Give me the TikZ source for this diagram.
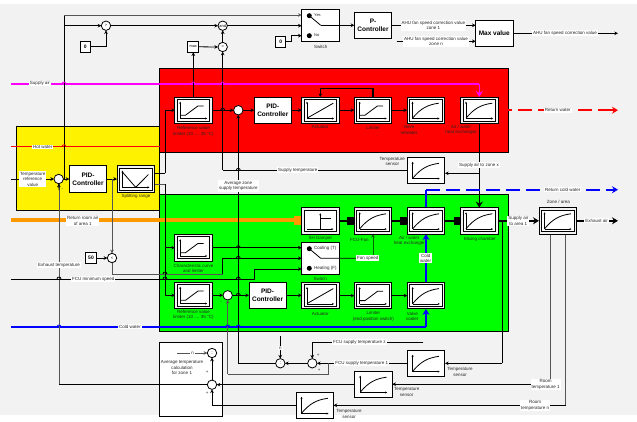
\documentclass[tikz,border=0pt]{standalone}
\usepackage{fontspec}
\setmainfont{Liberation Sans}
\usetikzlibrary{arrows.meta,calc}
\definecolor{bgray}{HTML}{F2F2F2}
\definecolor{lgray}{HTML}{555555}
\definecolor{myorange}{HTML}{FF9900}
\definecolor{mymag}{HTML}{FF00FF}
\definecolor{dgreen}{HTML}{006600}
\newcommand\hop[3][black]{\draw[#1,line width=.8pt] (#2-2,#3) .. controls (#2-2,#3-2.6) and (#2+2,#3-2.6) .. (#2+2,#3);}
\newcommand\icAxes{\draw[axs] (-13.3,8.3)--(13.7,8.3); \draw[axs] (-13.3,8.3)--(-13.3,-8.5);}
\newcommand\icLim{\icAxes\draw[cv] (-13.3,5)--(-8,5)--(4.5,-4.3)--(10,-4.3);}
\newcommand\icLin{\icAxes\draw[cv] (-13.3,8)--(13,-7);}
\newcommand\icPt{\icAxes\draw[cv] (-13.3,8) .. controls (-5,-2) and (2,-5.5) .. (13,-7);}
\newcommand\icSplit{\icAxes\draw[cv] (-13.3,-7)--(0,8.3)--(12.7,-4.5);}
\newcommand\icDamp{\draw[axs] (-13.3,8.3)--(13,8.3); \draw[axs] (0,8.3)--(0,-7.5); \draw[cv] (0,-2.3)--(10.7,-2.3);}
\newcommand\simblk[4]{\node[dbl] (#1) at (#2,#3) {};
  \begin{scope}[shift={(#2,#3)}]\draw[black,line width=.7pt,fill=white] (-16.3,-10.9) rectangle (16.3,10.9);#4\end{scope}}
\newcommand\sensor[4]{\node[snr] (#1) at (#2,#3) {};
  \begin{scope}[shift={(#2,#3)}]#4\end{scope}}
\tikzset{
  >={Stealth[length=3.6pt,width=3.6pt]},
  ln/.style={black,line width=.8pt},
  gln/.style={lgray,line width=1pt},
  arr/.style={ln,->},
  garr/.style={gln,->},
  thk/.style={black,line width=1.5pt},
  bigarr/.style={-{Stealth[length=6pt,width=7pt]}},
  axs/.style={black,line width=.5pt,-{Stealth[length=2pt,width=2pt]}},
  cv/.style={black,line width=.8pt},
  dbl/.style={draw=black,line width=.8pt,fill=bgray,minimum width=37.3pt,minimum height=26.4pt,inner sep=0pt,outer sep=0pt},
  snr/.style={draw=black,line width=.8pt,fill=white,minimum width=37.6pt,minimum height=26pt,inner sep=0pt,outer sep=0pt},
  ctl/.style={draw=black,line width=.8pt,fill=white,minimum width=37.3pt,minimum height=26.4pt,inner sep=0pt,outer sep=0pt,align=center,font=\fontsize{6.5}{8}\selectfont\bfseries},
  swb/.style={draw=black,line width=.8pt,fill=white,minimum width=37.3pt,inner sep=0pt,outer sep=0pt},
  sbox/.style={draw=black,line width=.8pt,fill=white,inner sep=0pt,outer sep=0pt,font=\fontsize{5}{6}\selectfont\bfseries},
  sumc/.style={circle,draw=black,line width=.8pt,fill=white,minimum size=9.4pt,inner sep=0pt,outer sep=0pt,font=\fontsize{4}{4}\selectfont},
  dotn/.style={circle,fill=black,minimum size=5pt,inner sep=0pt,outer sep=0pt},
  lab/.style={font=\fontsize{4.5}{5.5}\selectfont,align=center,inner sep=0pt,text=black!85},
  labw/.style={lab,fill=white,inner xsep=1pt,inner ysep=.8pt},
  ent/.style={fill=black,inner sep=0pt,outer sep=0pt,minimum width=7pt,minimum height=8pt}
}
\begin{document}
\begin{tikzpicture}[x=1pt,y=-1pt]
\useasboundingbox (0,0) rectangle (637,421);
\fill[white] (0,0) rectangle (637,421);
\fill[bgray] (0,4) rectangle (637,415);
% coloured regions
\draw[black,line width=.8pt,fill=yellow] (16.7,126) rectangle (159.5,210);
\draw[black,line width=.8pt,fill=red] (159.5,68) rectangle (508,152.5);
\draw[black,line width=.8pt,fill=green] (159.5,194.5) rectangle (508,331.5);
\draw[black,line width=.8pt,fill=white] (159.5,342.5) rectangle (222.5,416);

% nodes: controllers, junction circles, small boxes
\node[ctl] (pid0) at (88,179) {PID-\\Controller};
\node[ctl] (pid1) at (272.8,110.2) {PID-\\Controller};
\node[ctl] (pid2) at (267.6,295.3) {PID-\\Controller};
\node[ctl] (pc) at (373,25.5) {P-\\Controller};
\node[ctl] (maxv) at (494.3,33.3) {Max value};
\node[swb,minimum height=32.4pt] (sw1) at (320.3,25.5) {};
\node[swb,minimum height=31.8pt] (sw2) at (320.3,258.3) {};
\node[sbox,minimum width=10.7pt,minimum height=11pt] (z1) at (85.3,46.8) {0};
\node[sbox,minimum width=10pt,minimum height=10.3pt] (z2) at (280.7,41.8) {0};
\node[sbox,minimum width=11.4pt,minimum height=11.4pt] (b50) at (91,258) {50};
\node[sbox,minimum width=11pt,minimum height=11pt,font=\fontsize{3.8}{4}\selectfont] (bmax) at (193.3,46.8) {max};
\node[sumc] (sumy) at (58.7,179) {};
\node[sumc] (sumr) at (238.3,110.2) {};
\node[sumc] (sumg) at (227.7,295.3) {};
\node[sumc] (clt) at (112,258) {<};
\node[sumc] (cgt) at (106,25.7) {>};
\node[sumc] (cand) at (222.7,25.7) {and};
\node[sumc] (ceq) at (222.7,47) {=};
\node[sumc,font=\fontsize{5}{5}\selectfont] (avgd) at (212,353) {:};
\node[sumc] (avgs) at (212,384.7) {};
\node[sumc,font=\fontsize{5}{5}\selectfont] (divc) at (280.3,363.3) {:};
\node[sumc] (sumb) at (312.3,363.3) {};
\coordinate (vtop) at (64,15);
\coordinate (vand) at (64,25.7);
\coordinate (vsum) at (64,179);
\coordinate (fcua) at (254.3,279);
\coordinate (fcub) at (254.3,269);
\coordinate (gr1) at (112,274);
\coordinate (gr2) at (222.5,274);
\coordinate (gr3) at (222.5,258.3);
\coordinate (bus) at (165,173);
\coordinate (bus2) at (165,184);
\coordinate (fb) at (222.7,110.2);
\coordinate (fb2) at (222.7,170.3);
\coordinate (avg) at (238.3,363.3);
\coordinate (tap) at (502.3,220.8);
\coordinate (tap2) at (502.3,363.3);
\coordinate (rt1) at (550,384.2);
\coordinate (rtn) at (565.7,405.3);
\coordinate (nfree) at (280.3,336);
\coordinate (zfree) at (423.3,342.3);
\coordinate (avgn) at (177.3,353);
\coordinate (mid) at (328.3,363.3);
\coordinate (mid2) at (328.3,374);
\coordinate (mid3) at (227.7,374);
\coordinate (ahun) at (396.7,41.3);
\coordinate (ahuout) at (618,33.3);
\coordinate (supa) at (11,84);
\coordinate (supb) at (479.3,84);
\coordinate (hota) at (11,146.7);
\coordinate (hotb) at (159.5,146.7);
\coordinate (rooma) at (11,219.7);
\coordinate (roomb) at (301.7,219.7);
\coordinate (fcu0) at (11,279);
\coordinate (cold0) at (11,327);
\coordinate (cold1) at (426,327);
\coordinate (refin) at (11,179);
\coordinate (rcw0) at (426,189.7);
\coordinate (rcw1) at (618,189.7);
\coordinate (rw1) at (618,110.2);
\coordinate (ex1) at (618,220.8);
\coordinate (tsin) at (479.3,173.3);
\coordinate (fanr) at (373,258.3);
\coordinate (zm) at (291,41.8);
\coordinate (zm2) at (291,35.7);
\coordinate (loop1) at (373,88.5);
\coordinate (loop2) at (320.3,88.5);
\coordinate (exb) at (59,384.7);
\coordinate (c1) at (212,405.3);
\coordinate (ey) at (58.7,179);

% media lines
\draw[mymag,line width=1.6pt] (supa) -- (supb);
\draw[mymag,line width=1.6pt,bigarr] (supb) -- (479.3,97);
\draw[red,line width=1.2pt] (hota) -- (hotb);
\draw[myorange,line width=4pt] (rooma) -- (roomb);
\fill[myorange] (294,216) rectangle (301.7,224.5);

% control lines, top part
\draw[ln] (vsum) -- (vtop);
\draw[gln,->] (vtop) -- (vtop -| sw1.west);
\draw[arr] (vand) -- (cgt.west);
\draw[arr] (cgt.east) -- (cand.west);
\draw[arr] (cand.east) -- (cand -| sw1.west);
\draw[arr] (z1.east) -| (cgt.south);
\draw[arr] (bmax.east) -- (ceq.west);
\draw[arr] (ceq.north) -- (cand.south);
\draw[arr] (fb) -- (ceq.south);
\draw[arr] (bmax.south |- 0,97) -- (bmax.south);
\draw[ln] (z2.east) -- (zm) -- (zm2);
\draw[arr] (zm2) -- (zm2 -| sw1.west);
\draw[arr] (pc.east |- 0,25.3) -- (maxv.west |- 0,25.3);
\draw[arr] (ahun) -- (ahun -| maxv.west);
\draw[arr] (maxv.east) -- (ahuout);

% yellow
\draw[arr] (refin) -- (sumy.west);
\draw[arr] (sumy.east) -- (pid0.west);
\draw[arr] (pid0.east) -- (117,179);
\draw[gln,->] (112,179) -- (clt.north);
\draw[arr] (b50.east) -- (clt.west);
\draw[gln] (clt.south) -- (gr1) -- (gr2);
\draw[ln] (gr2) -- (gr3);
\draw[arr] (gr3) -- (gr3 -| sw2.west);
\draw[ln] (154.3,173) -- (bus);
\draw[arr] (bus) -- (165,110.2) -- (175,110.2);
\draw[gln] (154.3,184) -- (bus2);
\draw[ln] (bus2) -- (165,295.3);
\draw[arr] (165,247.7) -- (175,247.7);
\draw[arr] (165,295.3) -- (175,295.3);

% red chain
\draw[arr] (212,110.2) -- (sumr.west);
\draw[arr] (sumr.east) -- (pid1.west);
\draw[arr] (pid1.east) -- (301.7,110.2);
\draw[arr] (339,110.2) -- (354.3,110.2);
\draw[arr] (391.7,110.2) -- (407,110.2);
\draw[line width=1.2pt] (373,97) -- (loop1) -- (loop2);
\draw[line width=1.2pt,->] (loop2) -- (320.3,97);
\draw[ln] (fb) -- (fb2);
\draw[line width=1.3pt,black,bigarr] (479.3,123.4) -- (479.3,207.6);
\draw[arr] (tsin) -- (445,173.3);
\draw[red,line width=2.4pt,dash pattern=on 14pt off 6pt] (498,110.2) -- (608,110.2);
\draw[red,line width=2.4pt,bigarr] (608,110.2) -- (rw1);

% cold/return water
\draw[blue,line width=2.4pt,dash pattern=on 14pt off 6pt] (rcw0) -- (608,189.7);
\draw[blue,line width=2.4pt,bigarr] (608,189.7) -- (rcw1);
\draw[blue,line width=1.8pt] (rcw0) -- (426,207.7);
\draw[blue,line width=1.6pt] (cold0) -- (cold1);
\draw[blue,line width=1.2pt,bigarr] (cold1) -- (426,308.9);
\draw[blue,line width=1.2pt,bigarr] (426,282.3) -- (426,234);

% green part
\draw[gln] (59,183.7) -- (exb);
\draw[ln] (exb) -- (avgs.west);
\draw[ln,<-] (sumy.south) -- (59,190);
\draw[arr] (212,247.7) -- (sw2.west |- 0,247.7);
\draw[ln] (fcu0) -- (fcua) -- (fcub);
\draw[arr] (fcub) -- (fcub -| sw2.west);
\draw[arr] (212,295.3) -- (sumg.west);
\draw[arr] (sumg.east) -- (pid2.west);
\draw[arr] (pid2.east) -- (301.7,295.3);
\draw[arr] (339,295.6) -- (354.3,295.6);
\draw[arr] (391.7,295.6) -- (407.3,295.6);
\draw[dgreen,line width=.9pt,->] (fanr) -- (373,234);
\draw[thk] (339,220.8) -- (354.3,220.8);
\draw[thk] (391.7,220.8) -- (407.3,220.8);
\draw[thk] (445,220.8) -- (460.7,220.8);
\node[ent] (e1) at (350.8,221) {};
\node[ent] (e2) at (403.8,221) {};
\node[ent] (e3) at (457.2,221) {};
\draw[thk,bigarr] (498,220.8) -- (539,220.8);
\draw[thk,bigarr] (576.6,220.8) -- (ex1);
\draw[ln] (tap) -- (tap2);
\draw[arr] (tap2) -- (445,363.3);
\draw[gln] (550,234) -- (rt1);
\draw[ln] (rt1) -- (392.3,384.2);
\draw[ln,->] (400,384.2) -- (392.3,384.2);
\draw[gln] (rtn -| rtn) -- (565.7,234);
\draw[ln] (rtn) -- (333.6,405.3);
\draw[ln,->] (340,405.3) -- (333.6,405.3);
\draw[ln] (296,405.3) -- (c1);
\draw[arr] (c1) -- (avgs.south);
\draw[ln,->] (296,384.7) -- (avgs.east);
\draw[ln] (354.7,384.7) -- (296,384.7);
\draw[arr] (avgs.north) -- (avgd.south);
\draw[gln,->] (avgn) -- (avgd.west);
\draw[ln,->] (nfree) -- (divc.north);
\draw[arr] (zfree) -| (sumb.north);
\draw[arr] (407.3,363.3) -- (sumb.east);
\draw[arr] (sumb.west) -- (divc.east);
\draw[ln] (divc.west) -- (avg);
\draw[arr] (avg) -- (sumr.south);
\draw[ln] (407.3,170.3) -- (fb2);
\draw[gln] (mid) -- (mid2) -- (mid3);
\draw[gln,->] (mid3) -- (sumg.south);

% line crossings
\hop[mymag]{64}{84}\hop[mymag]{193.3}{84}\hop[mymag]{222.7}{84}
\hop[red]{64}{146.7}
\hop{59}{279}\hop{165}{279}\hop{238.3}{279}
\hop{165}{274}\hop{238.3}{258.3}\hop{238.3}{247.7}\hop{238.3}{295.3}\hop{238.3}{170.3}\hop{222.7}{110.2}
\hop[blue]{59}{327}\hop[blue]{227.7}{327}\hop[blue]{238.3}{327}

% simulation blocks
\simblk{rlim}{193.5}{110.2}{\icLim}
\simblk{act}{320.3}{110.2}{\icLin}
\simblk{lim}{373}{110.2}{\icLim}
\simblk{reh}{425.8}{110.2}{\icPt}
\simblk{aw}{479.3}{110.2}{\icPt}
\simblk{split}{135.7}{179}{\icSplit}
\simblk{damp}{320.3}{220.8}{\icDamp}
\simblk{fan}{373}{220.8}{\icPt}
\simblk{aw2}{426}{220.8}{\icPt}
\simblk{mix}{479.3}{220.8}{\icPt}
\simblk{zone}{557.8}{220.8}{\icPt}
\simblk{charc}{193.5}{247.7}{\icLim}
\simblk{rlim2}{193.5}{295.3}{\icLim}
\simblk{act2}{320.3}{295.6}{\icLin}
\simblk{lim2}{373}{295.6}{\icLim}
\simblk{valve}{426}{295.6}{\icPt}
\sensor{ts1}{426}{170.3}{\icPt}
\sensor{ts2}{426}{363.3}{\icPt}
\sensor{ts3}{373.5}{384.2}{\icPt}
\sensor{ts4}{314.8}{405.3}{\icPt}

% switches
\node[dotn] (d1) at (309.3,15.7) {};
\node[dotn] (d2) at (309.3,35.7) {};
\coordinate (arm1) at (320.7,25.3);
\draw[ln] (d1) -- (arm1);
\draw[arr] (arm1) -- (pc.west |- arm1);
\node[dotn] (d3) at (309.3,248.7) {};
\node[dotn] (d4) at (309.3,268.3) {};
\draw[ln] (d3) -- (320.7,258.3) -- (fanr);
\node[lab,anchor=west,font=\fontsize{4}{5}\selectfont] (yes) at (314,15.5) {Yes};
\node[lab,anchor=west,font=\fontsize{4}{5}\selectfont] (no) at (314,35.5) {No};
\node[lab,anchor=west] (coolT) at (314,248.3) {Cooling (T)};
\node[lab,anchor=west] (heatF) at (314,268.3) {Heating (F)};

% labels on grey
\node[labw] (t1) at (40,83.5) {Supply air};
\node[labw] (t2) at (42.7,147) {Hot water};
\node[labw] (t3) at (32.7,179) {Temperature\\reference\\value};
\node[labw] (t4) at (82.7,220.7) {Return room air\\of area 1};
\node[labw] (t5) at (59,265.3) {Exhaust temperature};
\node[labw] (t6) at (93.3,279) {FCU minimum speed};
\node[labw] (t7) at (130,326.7) {Cold water};
\node[labw] (t8) at (433.3,25.3) {AHU fan speed correction value\\zone 1};
\node[labw] (t9) at (436,41.3) {AHU fan speed correction value\\zone n};
\node[labw] (t10) at (565,33.3) {AHU fan speed correction value};
\node[labw] (t11) at (557.7,110.2) {Return water};
\node[labw] (t12) at (562.7,189.7) {Return cold water};
\node[labw] (t13) at (479,165.3) {Supply air to zone x};
\node[labw] (t14) at (297.7,170.3) {Supply temperature};
\node[labw] (t15) at (238.3,186) {Average zone\\supply temperature};
\node[labw] (t16) at (518.3,221) {Supply air\\to area 1};
\node[labw] (t17) at (596.7,220.8) {Exhaust air};
\node[labw] (t18) at (425.7,258.2) {Cold\\water};
\node[labw] (t19) at (367.7,258.3) {Fan speed};
\node[labw] (t20) at (359.3,342.3) {FCU supply temperature z};
\node[labw] (t21) at (361.7,363.3) {FCU supply temperature 1};
\node[labw] (t22) at (545.7,384.2) {Room\\temperature 1};
\node[labw] (t23) at (535,405.3) {Room\\temperature n};
\node[labw] (t24) at (192.7,353) {n};
\node[labw] (t25) at (280.3,348) {n};
% plain labels
\node[lab] (p1) at (136,196.7) {Splitting range};
\node[lab] (p2) at (193.5,131.5) {Reference value\\limiter (10 .... 35 °C)};
\node[lab] (p3) at (320.3,127.3) {Actuator};
\node[lab] (p4) at (373,128.3) {Limiter};
\node[lab] (p5) at (409,130) {Valve\\reheater};
\node[lab] (p6) at (461,130) {Air / water\\heat exchanger};
\node[lab] (p7) at (392.3,161.3) {Temperature\\sensor};
\node[lab] (p8) at (320.3,238.7) {SH Damper};
\node[lab] (p9) at (359.3,240) {FCU-Fan};
\node[lab] (p10) at (409.3,241) {Air / water\\heat exchanger};
\node[lab] (p11) at (480,239.3) {Mixing chamber};
\node[lab] (p12) at (558.3,202) {Zone / area};
\node[lab] (p13) at (193.5,268.2) {Characteristic curve\\and limiter};
\node[lab] (p14) at (193.5,315) {Reference value\\limiter (10 .... 35 °C)};
\node[lab] (p15) at (320.3,314.3) {Actuator};
\node[lab] (p16) at (373.3,316.3) {Limiter\\(end position switch)};
\node[lab] (p17) at (412.3,316.3) {Valve\\cooler};
\node[lab] (p18) at (320.7,46.7) {Switch};
\node[lab] (p19) at (320.3,279.3) {Switch};
\node[lab] (p20) at (406.7,391.8) {Temperature\\sensor};
\node[lab] (p21) at (349,413.8) {Temperature\\sensor};
\node[lab] (p22) at (460,371.8) {Temperature\\sensor};
\node[lab] (p23) at (182,367.8) {Average temperature\\calculation\\for zone 1};
\node[lab] (s1) at (62.3,190) {-};
\node[lab] (s2) at (231.5,117) {-};
\node[lab] (s3) at (221,302.7) {-};
\node[lab] (s4) at (207.3,371.7) {+};
\node[lab] (s5) at (207.3,393.3) {+};
\node[lab] (s6) at (318.3,355.3) {+};
\node[lab] (s7) at (319.3,370) {+};
\end{tikzpicture}
\end{document}
